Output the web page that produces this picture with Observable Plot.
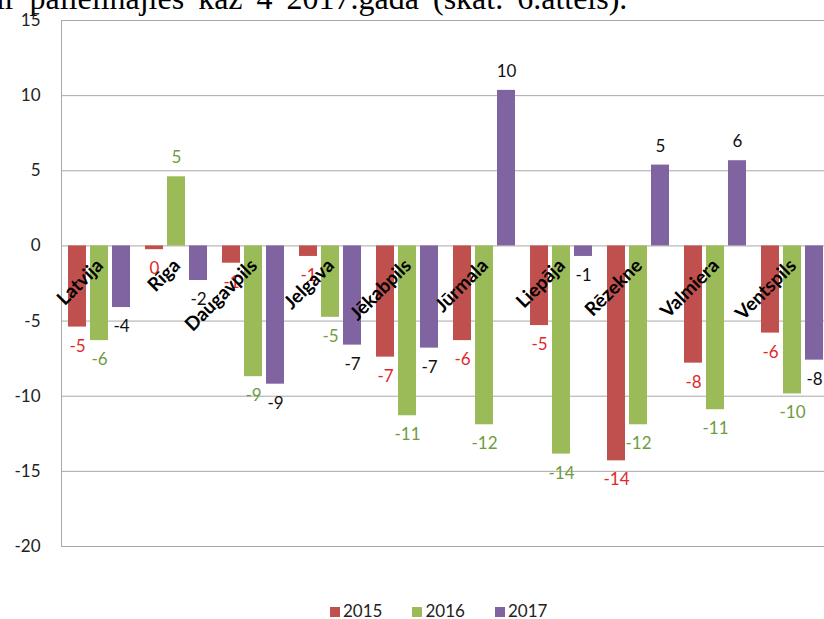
<!DOCTYPE html>
<html>
<head>
<meta charset="utf-8">
<script src="https://cdn.jsdelivr.net/npm/d3@7"></script>
<script src="https://cdn.jsdelivr.net/npm/@observablehq/plot@0.6"></script>
<style>
  html, body { margin: 0; padding: 0; background: #fff; overflow: hidden; width: 824px; height: 619px; }
  #wrap { position: relative; width: 824px; height: 619px; overflow: hidden; }
  #title { position: absolute; left: -4px; top: -18px; font-family: "Liberation Serif", serif; font-size: 32px; line-height: 32px; word-spacing: 6px; white-space: nowrap; color: #000; }
  #chart { position: absolute; left: 0; top: 0; width: 840px; }
  #chart svg { max-width: none !important; }
  #legend { position: absolute; top: 602px; left: 330px; white-space: nowrap; font-family: Lato, sans-serif; font-size: 17px; line-height: 17px; color: #222; }
  #legend span.item { display: inline-block; margin-right: 30px; }
  #legend span.sw { display: inline-block; width: 10px; height: 10px; margin-right: 3px; vertical-align: 0px; }
</style>
</head>
<body>
<div id="wrap">
  <div id="title">ir palielinājies kaz 4 2017.gadā (skat. 6.attēls).</div>
  <div id="chart"></div>
  <div id="legend"></div>
</div>
<script>
const categories = ["Latvija", "Rīga", "Daugavpils", "Jelgava", "Jēkabpils", "Jūrmala", "Liepāja", "Rēzekne", "Valmiera", "Ventspils"];
const years = ["2015", "2016", "2017"];
const values2015 = [-5.4, -0.25, -1.15, -0.7, -7.4, -6.3, -5.3, -14.3, -7.8, -5.8];
const values2016 = [-6.3, 4.6, -8.7, -4.75, -11.3, -11.9, -13.85, -11.9, -10.9, -9.85];
const values2017 = [-4.1, -2.3, -9.2, -6.6, -6.8, 10.35, -0.7, 5.38, 5.67, -7.6];
const barColors = ["#C0504D", "#9BBB59", "#8064A2"];
const labelColors = ["#E0282B", "#6E9C3F", "#111111"];
const yTicks = [-20, -15, -10, -5, 0, 5, 10, 15];

const seriesValues = [values2015, values2016, values2017];
const data = categories.flatMap((c, i) => years.map((y, j) => ({cat: c, year: y, value: seriesValues[j][i]})));

const labelMarks = years.flatMap((y, j) => {
  const rows = data.filter(d => d.year === y);
  return [
    Plot.text(rows.filter(d => d.value < 0), {fx: "cat", x: "year", y: "value", text: d => String(Math.round(d.value)).replace("-0", "0"), dy: 19, fill: labelColors[j], fontSize: 17, lineAnchor: "middle"}),
    Plot.text(rows.filter(d => d.value >= 0), {fx: "cat", x: "year", y: "value", text: d => String(Math.round(d.value)), dy: -19, fill: labelColors[j], fontSize: 17, lineAnchor: "middle"})
  ];
});

const chart = Plot.plot({
  width: 840,
  height: 560,
  marginLeft: 57,
  marginRight: 5,
  marginTop: 20,
  marginBottom: 14,
  style: {fontFamily: "Lato, sans-serif", fontSize: "17px", color: "#222", background: "transparent", overflow: "visible", maxWidth: "none"},
  fx: {domain: categories, padding: 0, axis: null},
  x: {domain: years, paddingInner: 0.174, paddingOuter: 0.28, axis: null},
  y: {domain: [-20, 15], ticks: yTicks, tickSize: 0, tickPadding: 21, label: null, tickFormat: d => String(d)},
  color: {domain: years, range: barColors},
  marks: [
    Plot.ruleY(yTicks, {stroke: "#a8a8a8", strokeWidth: 1}),
    Plot.frame({anchor: "left", stroke: "#a8a8a8", facetAnchor: "left"}),
    Plot.barY(data, {fx: "cat", x: "year", y: "value", fill: "year"}),
    ...labelMarks,
    Plot.text(categories, {fx: d => d, y: -1.1, text: d => d, rotate: -45, textAnchor: "end", lineAnchor: "middle", fontWeight: "bold", fontSize: 19, fill: "#000"})
  ]
});
chart.style.maxWidth = "none";
document.getElementById("chart").appendChild(chart);

const legend = document.getElementById("legend");
years.forEach((y, j) => {
  const item = document.createElement("span");
  item.className = "item";
  const sw = document.createElement("span");
  sw.className = "sw";
  sw.style.background = barColors[j];
  item.appendChild(sw);
  item.appendChild(document.createTextNode(y));
  legend.appendChild(item);
});
</script>
</body>
</html>
